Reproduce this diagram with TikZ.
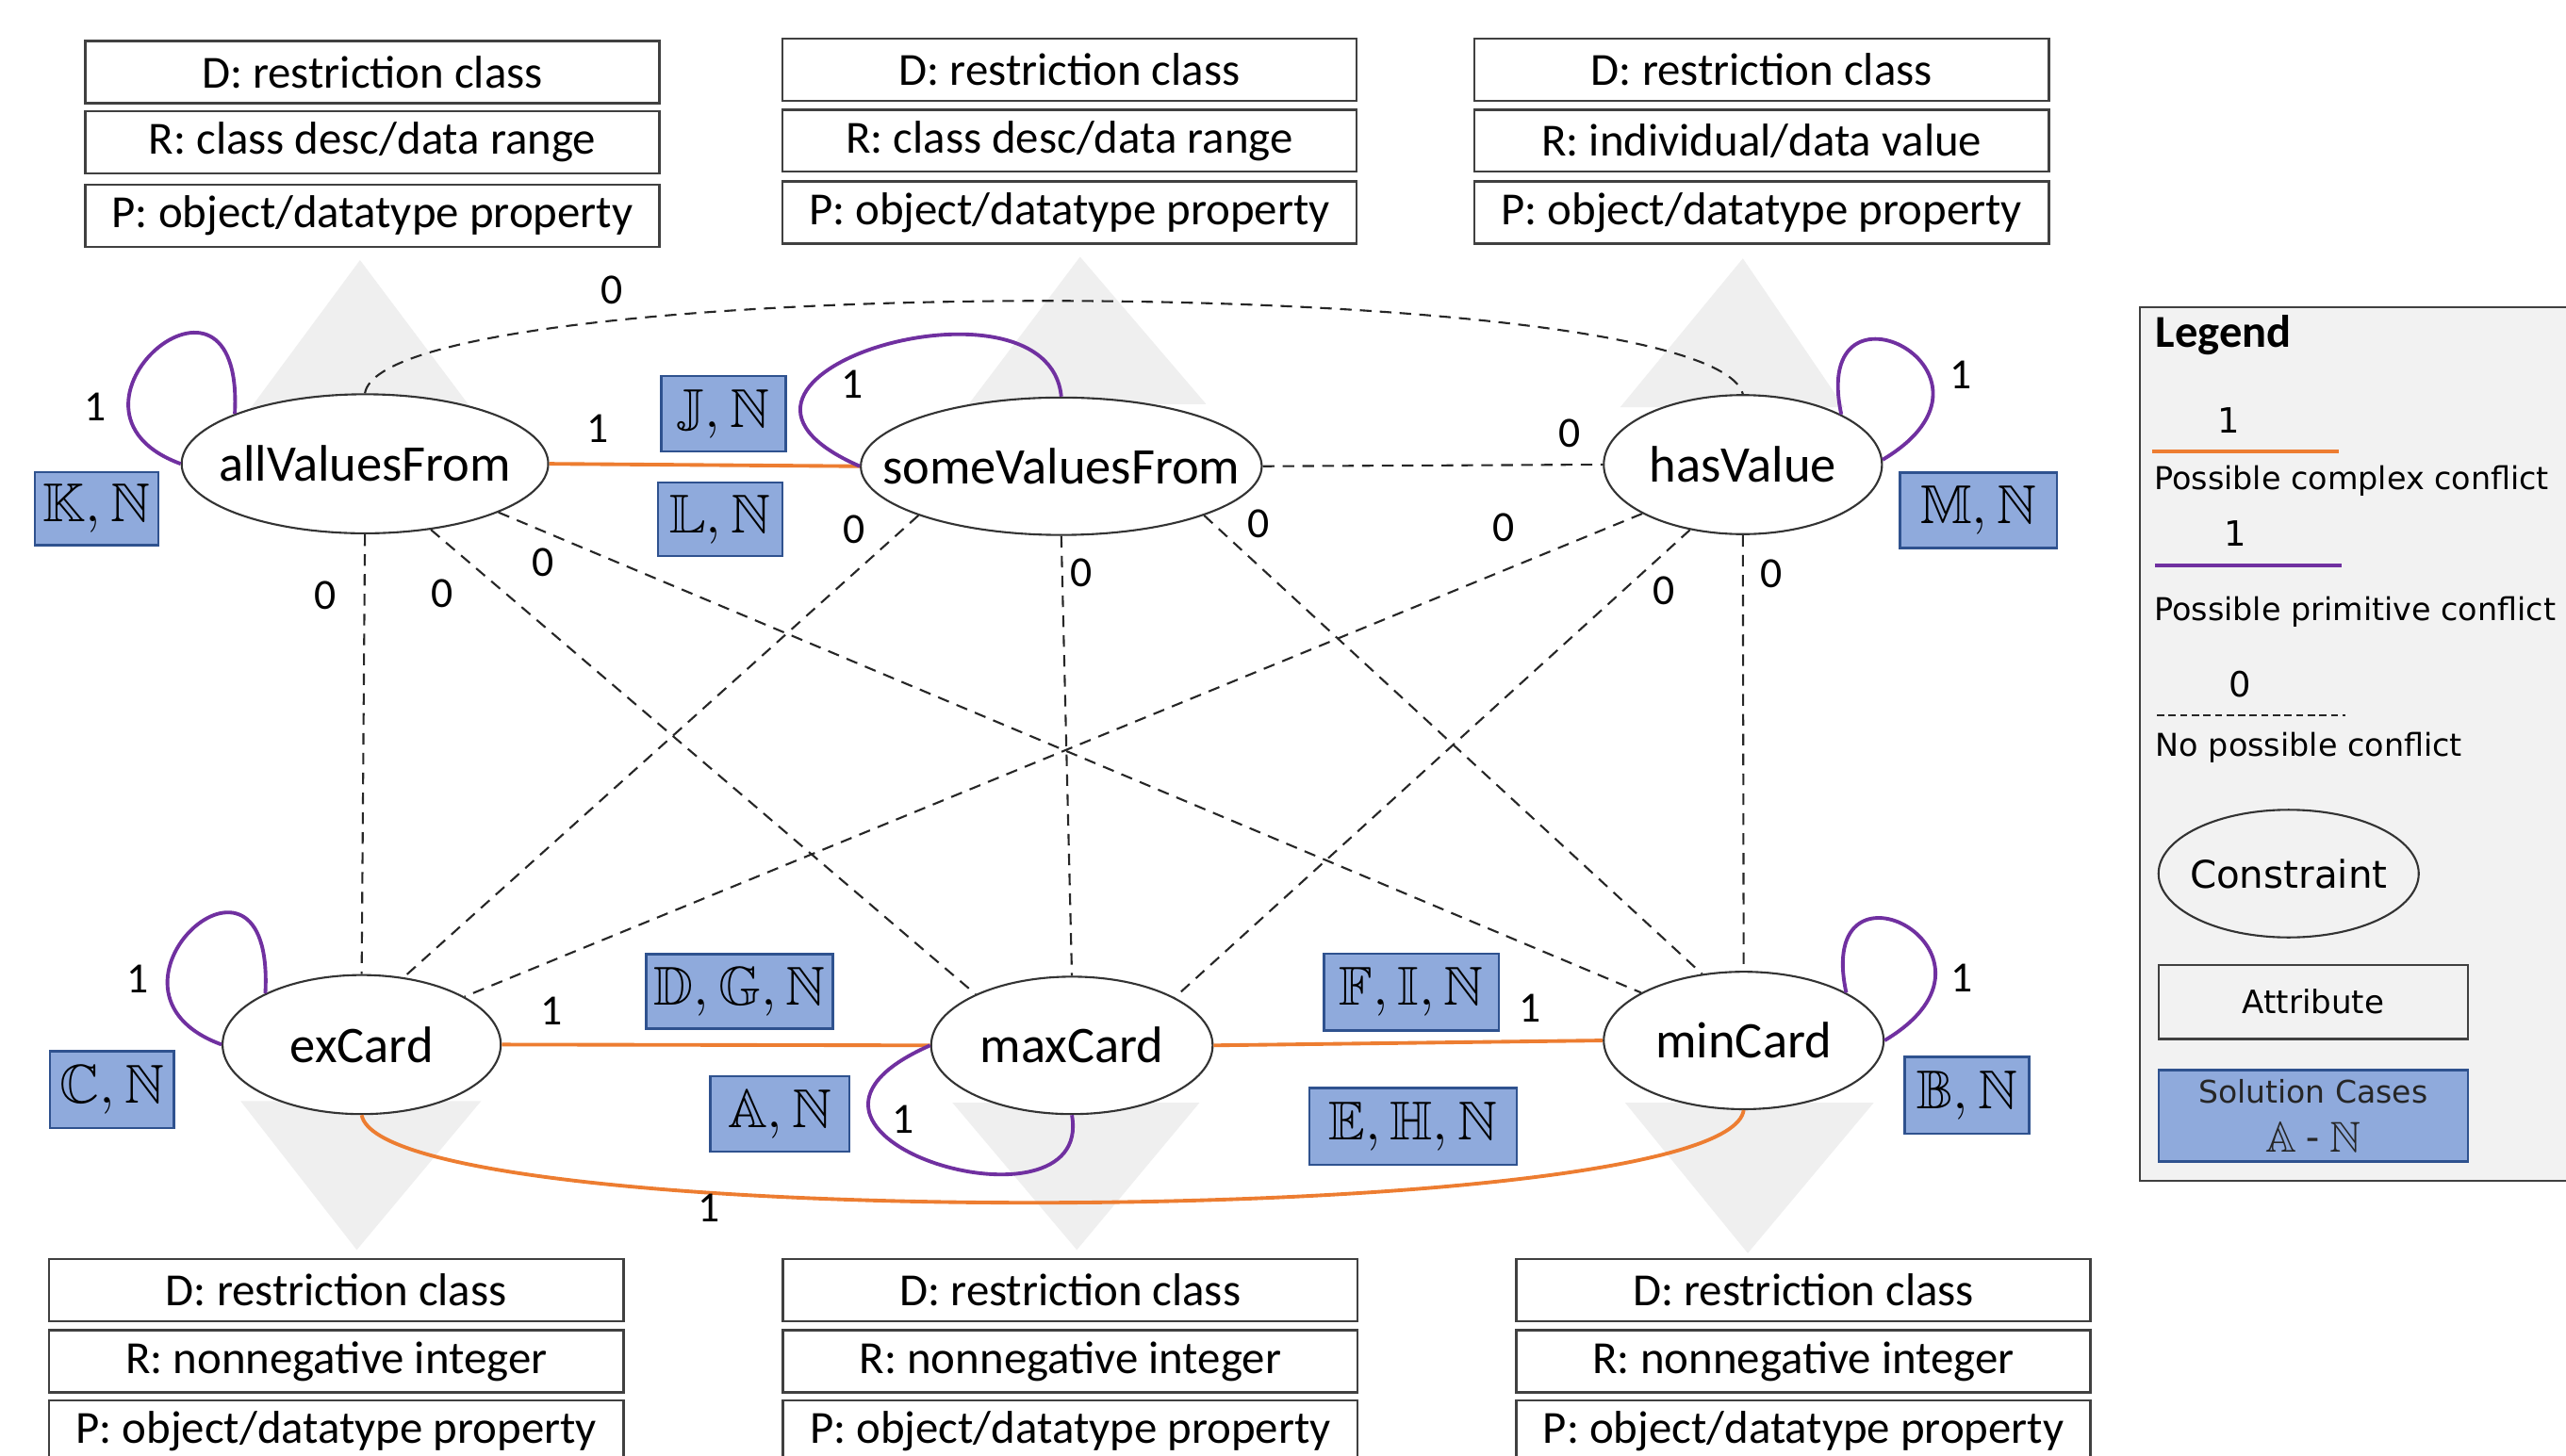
\documentclass[tikz,border=0pt]{standalone}
\usepackage{amssymb}
\usepackage{fontspec}
\setmainfont{Carlito}
\newfontfamily\legfont{DejaVu Sans}
\usetikzlibrary{shapes.geometric}
\newlength\pu
\setlength\pu{0.01736cm}
\definecolor{orng}{RGB}{237,125,49}
\definecolor{purp}{RGB}{112,48,160}
\definecolor{trigray}{RGB}{239,239,239}
\definecolor{solfill}{RGB}{143,170,220}
\definecolor{soledge}{RGB}{47,82,143}
\definecolor{leggray}{RGB}{242,242,242}
\tikzset{
  attr/.style={draw=black!75, line width=0.7pt, fill=white, minimum width=351\pu, minimum height=38\pu, inner sep=0pt, font=\fontsize{13.9}{16}\selectfont},
  cons/.style={ellipse, draw=black!80, line width=0.6pt, fill=white, inner sep=0pt},
  ctext/.style={inner sep=0pt, font=\fontsize{15.5}{18}\selectfont},
  sol/.style={draw=soledge, fill=solfill, line width=0.7pt, inner sep=0pt, font=\fontsize{16.5}{19}\selectfont},
  num/.style={font=\fontsize{13}{15}\selectfont, inner sep=1pt},
  nocon/.style={draw=black!85, line width=0.6pt, dash pattern=on 3.5pt off 2.5pt},
  cplx/.style={draw=orng, line width=1.1pt},
  prim/.style={draw=purp, line width=1.1pt},
  tri/.style={fill=trigray, draw=none},
  legtext/.style={font=\legfont\fontsize{9.5}{11}\selectfont, inner sep=0pt, anchor=west},
  legnum/.style={font=\legfont\fontsize{10.5}{12}\selectfont, inner sep=0pt},
}
\begin{document}
\begin{tikzpicture}[x=0.01736cm, y=-0.01736cm]
\useasboundingbox (0,0) rectangle (1568,890);
\fill[white] (0,0) rectangle (1568,890);

% grey triangles
\path[tri] (220,159) -- (152,251) -- (289,251) -- cycle;
\path[tri] (660,157) -- (592,247) -- (737,247) -- cycle;
\path[tri] (1065,158) -- (990,249) -- (1127,249) -- cycle;
\path[tri] (147,673) -- (294,673) -- (218,764) -- cycle;
\path[tri] (582,674) -- (733,674) -- (658,764) -- cycle;
\path[tri] (993,674) -- (1145,674) -- (1068,766) -- cycle;

% attribute boxes top
\node[attr] (tl1) at (227.5,44) {D: restriction class};
\node[attr] (tl2) at (227.5,87) {R: class desc/data range};
\node[attr] (tl3) at (227.5,132) {P: object/datatype property};
\node[attr] (tm1) at (653.5,42.5) {D: restriction class};
\node[attr] (tm2) at (653.5,86) {R: class desc/data range};
\node[attr] (tm3) at (653.5,130) {P: object/datatype property};
\node[attr] (tr1) at (1076.5,42.5) {D: restriction class};
\node[attr] (tr2) at (1076.5,86) {R: individual/data value};
\node[attr] (tr3) at (1076.5,130) {P: object/datatype property};
% attribute boxes bottom
\node[attr] (bl1) at (205.5,788.5) {D: restriction class};
\node[attr] (bl2) at (205.5,832) {R: nonnegative integer};
\node[attr] (bl3) at (205.5,875) {P: object/datatype property};
\node[attr] (bm1) at (654,788.5) {D: restriction class};
\node[attr] (bm2) at (654,832) {R: nonnegative integer};
\node[attr] (bm3) at (654,875) {P: object/datatype property};
\node[attr] (br1) at (1102,788.5) {D: restriction class};
\node[attr] (br2) at (1102,832) {R: nonnegative integer};
\node[attr] (br3) at (1102,875) {P: object/datatype property};

% constraint ellipses
\node[cons, minimum width=224\pu, minimum height=85\pu] (avf) at (223,283.5) {};
\node[ctext] (avft) at (avf.center) {allValuesFrom};
\node[cons, minimum width=245\pu, minimum height=84\pu] (svf) at (648.5,285) {};
\node[ctext] (svft) at (svf.center) {someValuesFrom};
\node[cons, minimum width=170\pu, minimum height=85\pu] (hv) at (1065,284) {};
\node[ctext] (hvt) at (hv.center) {hasValue};
\node[cons, minimum width=170\pu, minimum height=85\pu] (exc) at (221,638.5) {};
\node[ctext] (exct) at (exc.center) {exCard};
\node[cons, minimum width=172\pu, minimum height=84\pu] (maxc) at (655,639) {};
\node[ctext] (maxct) at (maxc.center) {maxCard};
\node[cons, minimum width=171\pu, minimum height=84\pu] (minc) at (1065.5,636) {};
\node[ctext] (minct) at (minc.center) {minCard};

% no possible conflict (dashed)
\draw[nocon] (avf.90) .. controls (235,165) and (1045,165) .. (hv.90);
\draw[nocon] (svf.0) -- (hv.180);
\draw[nocon] (avf.-90) -- (exc.90);
\draw[nocon] (avf.-45) -- (maxc.152.7);
\draw[nocon] (avf.-20.3) -- (minc.155.1);
\draw[nocon] (svf.199.3) -- (exc.58.6);
\draw[nocon] (svf.-90) -- (maxc.90);
\draw[nocon] (svf.-19.1) -- (minc.122.1);
\draw[nocon] (hv.-154.2) -- (exc.25.9);
\draw[nocon] (hv.-129.5) -- (maxc.25.5);
\draw[nocon] (hv.-90) -- (minc.90);

% possible complex conflict (orange)
\draw[cplx] (avf.0) -- (svf.180);
\draw[cplx] (exc.0) -- (maxc.180);
\draw[cplx] (maxc.0) -- (minc.180);
\draw[cplx] (exc.-90) .. controls (235,755) and (1055,752) .. (minc.-90);

% possible primitive conflict (purple loops)
\draw[prim] (avf.180) .. controls +(-90,-33) and +(6,-113) .. (avf.159);
\draw[prim] (svf.180) .. controls +(-126,-55) and +(-8,-83) .. (svf.90);
\draw[prim] (hv.27.3) .. controls +(-20,-93) and +(89,-53) .. (hv.2);
\draw[prim] (exc.180) .. controls +(-90,-33) and +(6,-113) .. (exc.152);
\draw[prim] (maxc.180) .. controls +(-125,55) and +(14,79) .. (maxc.-90);
\draw[prim] (minc.25.2) .. controls +(-20,-93) and +(89,-53) .. (minc.0);

% edge labels
\node[num] (n1) at (374,177.5) {0};
\node[num] (n2) at (58,249) {1};
\node[num] (n3) at (365,262) {1};
\node[num] (n4) at (521,235) {1};
\node[num] (n5) at (1198,229) {1};
\node[num] (n6) at (959,265) {0};
\node[num] (n7) at (199,364) {0};
\node[num] (n8) at (270,363) {0};
\node[num] (n9) at (332,344) {0};
\node[num] (n10) at (522,323.5) {0};
\node[num] (n11) at (661,350) {0};
\node[num] (n12) at (769,320) {0};
\node[num] (n13) at (919,322.5) {0};
\node[num] (n14) at (1017,361) {0};
\node[num] (n15) at (1082.5,351) {0};
\node[num] (n16) at (84,598.5) {1};
\node[num] (n17) at (337,618) {1};
\node[num] (n18) at (552,684.5) {1};
\node[num] (n19) at (935,616) {1};
\node[num] (n20) at (1199,598) {1};
\node[num] (n21) at (433,738.5) {1};

% solution cases
\node[sol, minimum width=76\pu, minimum height=46\pu] (sJ) at (442,253) {$\mathbb{J}, \mathbb{N}$};
\node[sol, minimum width=76\pu, minimum height=45\pu] (sL) at (440,317.5) {$\mathbb{L}, \mathbb{N}$};
\node[sol, minimum width=75.5\pu, minimum height=44.5\pu] (sK) at (59,311) {$\mathbb{K}, \mathbb{N}$};
\node[sol, minimum width=96\pu, minimum height=46\pu] (sM) at (1209,312) {$\mathbb{M}, \mathbb{N}$};
\node[sol, minimum width=114\pu, minimum height=45.5\pu] (sDG) at (452,606) {$\mathbb{D}, \mathbb{G}, \mathbb{N}$};
\node[sol, minimum width=85\pu, minimum height=46\pu] (sA) at (476.5,681) {$\mathbb{A}, \mathbb{N}$};
\node[sol, minimum width=107\pu, minimum height=47\pu] (sFI) at (862.5,606.5) {$\mathbb{F}, \mathbb{I}, \mathbb{N}$};
\node[sol, minimum width=127\pu, minimum height=47\pu] (sEH) at (863.5,688.5) {$\mathbb{E}, \mathbb{H}, \mathbb{N}$};
\node[sol, minimum width=76\pu, minimum height=47\pu] (sC) at (68.4,666) {$\mathbb{C}, \mathbb{N}$};
\node[sol, minimum width=76\pu, minimum height=47\pu] (sB) at (1202,669.5) {$\mathbb{B}, \mathbb{N}$};

% legend
\node[draw=black!75, fill=leggray, line width=0.7pt, minimum width=280\pu, minimum height=534\pu, inner sep=0pt, anchor=north west] (leg) at (1307,187) {};
\node[anchor=west, inner sep=0pt, font=\bfseries\fontsize{13.8}{16}\selectfont] (legt) at (1317,205) {Legend};
\node[legnum] (lg1) at (1362,257) {1};
\coordinate (lo1) at (1315,276);
\coordinate (lo2) at (1429,276);
\draw[cplx] (lo1) -- (lo2);
\node[legtext] (lgt1) at (1316,294) {Possible complex conflict};
\node[legnum] (lg2) at (1366,326) {1};
\coordinate (lp1) at (1317,345.5);
\coordinate (lp2) at (1431,345.5);
\draw[prim] (lp1) -- (lp2);
\node[legtext] (lgt2) at (1316,374) {Possible primitive conflict};
\node[legnum] (lg3) at (1369,418) {0};
\coordinate (ld1) at (1318,437);
\coordinate (ld2) at (1433,437);
\draw[draw=black!85, line width=0.6pt, dash pattern=on 2.2pt off 1.3pt] (ld1) -- (ld2);
\node[legtext] (lgt3) at (1317,457) {No possible conflict};
\node[ellipse, draw=black!80, line width=0.6pt, fill=leggray, minimum width=159\pu, minimum height=78\pu, inner sep=0pt] (lgc) at (1398.5,534) {};
\node[inner sep=0pt, font=\legfont\fontsize{11.5}{13}\selectfont] (lgct) at (lgc.center) {Constraint};
\node[draw=black!75, line width=0.7pt, fill=leggray, minimum width=189\pu, minimum height=45\pu, inner sep=0pt, font=\legfont\fontsize{9.7}{11}\selectfont] (lga) at (1413.5,612.5) {Attribute};
\node[sol, minimum width=189\pu, minimum height=56\pu] (lgs) at (1413.5,682) {};
\node[inner sep=0pt, font=\legfont\fontsize{9.4}{11}\selectfont, text=black!85] (lgs1) at (1413.5,667) {Solution Cases};
\node[inner sep=0pt, font=\fontsize{13}{15}\selectfont, text=black!85] (lgs2) at (1413.5,695) {$\mathbb{A}$ - $\mathbb{N}$};
\end{tikzpicture}
\end{document}
